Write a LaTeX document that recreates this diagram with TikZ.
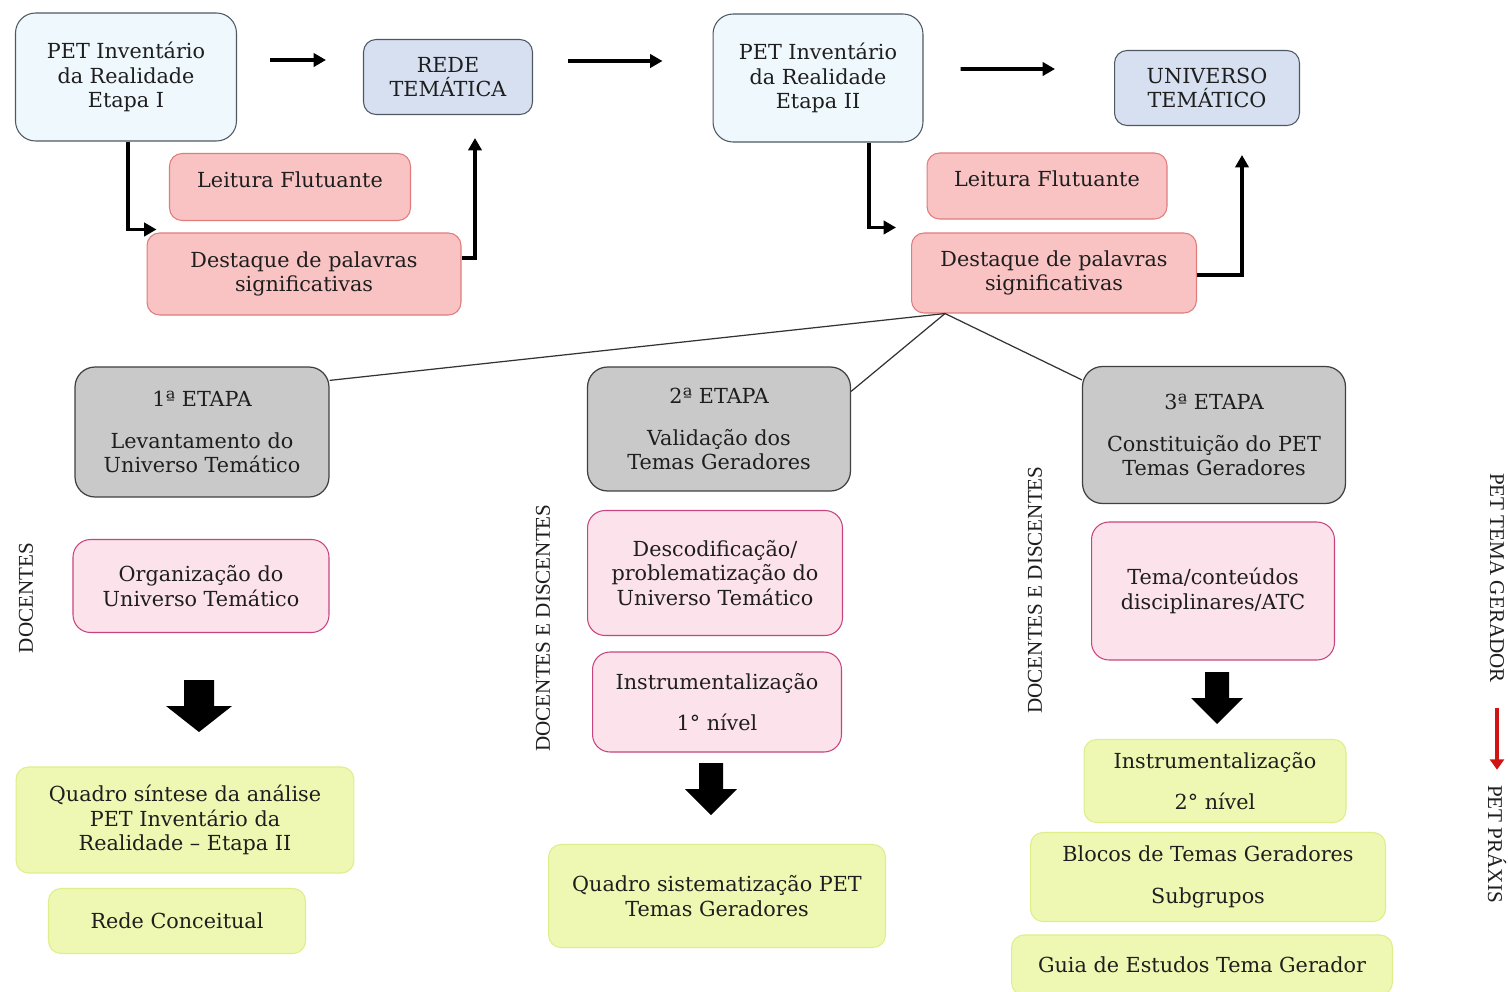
\documentclass[tikz,border=0pt]{standalone}
\usepackage{fontspec}
\setmainfont{DejaVu Serif}
\newfontfamily\timesfont{Liberation Serif}
\usetikzlibrary{arrows.meta}

\definecolor{textdark}{HTML}{1E1E1E}
\definecolor{topblue}{HTML}{EEF8FD}
\definecolor{topline}{HTML}{4E5862}
\definecolor{slateblue}{HTML}{D7E0F1}
\definecolor{salmon}{HTML}{F9C3C3}
\definecolor{salmonline}{HTML}{E07C7C}
\definecolor{etapagray}{HTML}{C9C9C9}
\definecolor{etapaline}{HTML}{404040}
\definecolor{pinkfill}{HTML}{FCE2EA}
\definecolor{pinkline}{HTML}{C8447E}
\definecolor{limefill}{HTML}{EFF8B3}
\definecolor{limeline}{HTML}{DDEE8A}
\definecolor{redarrow}{HTML}{D01414}

\begin{document}
\begin{tikzpicture}[x=0.02cm, y=-0.02cm, >={Triangle[length=7pt,width=7.5pt]},
  box/.style={draw, rounded corners=0.25cm, align=center, text=textdark, inner sep=2pt,
    font=\fontsize{11.8}{14}\selectfont},
  topbox/.style={box, rounded corners=0.4cm, fill=topblue, draw=topline, line width=0.6pt},
  keybox/.style={box, fill=slateblue, draw=topline, line width=0.6pt},
  readbox/.style={box, fill=salmon, draw=salmonline, line width=0.6pt},
  etapabox/.style={box, rounded corners=0.4cm, fill=etapagray, draw=etapaline, line width=0.7pt},
  pinkbox/.style={box, rounded corners=0.35cm, fill=pinkfill, draw=pinkline, line width=0.6pt},
  limebox/.style={box, fill=limefill, draw=limeline, line width=0.6pt},
  vlabel/.style={font=\timesfont\fontsize{12}{14}\selectfont, text=textdark},
  flow/.style={->, line width=2.2pt, black},
  spoke/.style={line width=0.7pt, black!80}]
  \useasboundingbox[fill=white] (0,0) rectangle (1508,991);

  % top row: inventory stages and their outcomes
  \node[topbox, minimum width=4.42cm, minimum height=2.56cm] (inv1) at (126,77) {PET Inventário\\da Realidade\\Etapa I};
  \node[keybox, minimum width=3.38cm, minimum height=1.5cm] (rede) at (448,77) {REDE\\TEMÁTICA};
  \node[topbox, minimum width=4.2cm, minimum height=2.56cm] (inv2) at (818,78) {PET Inventário\\da Realidade\\Etapa II};
  \node[keybox, minimum width=3.7cm, minimum height=1.5cm] (univ) at (1207,88) {UNIVERSO\\TEMÁTICO};

  % reading steps under each inventory
  \node[readbox, minimum width=4.82cm, minimum height=1.34cm] (leit1) at (290,187) {Leitura Flutuante\\[-6pt]\mbox{}};
  \node[readbox, minimum width=6.28cm, minimum height=1.64cm] (dest1) at (304,274) {Destaque de palavras\\significativas};
  \node[readbox, minimum width=4.8cm, minimum height=1.32cm] (leit2) at (1047,186) {Leitura Flutuante\\[-6pt]\mbox{}};
  \node[readbox, minimum width=5.7cm, minimum height=1.6cm] (dest2) at (1054,273) {Destaque de palavras\\significativas};

  \draw[flow] ([xshift=0.66cm,yshift=0.34cm]inv1.east) -- ([xshift=-0.74cm,yshift=0.34cm]rede.west);
  \draw[flow] ([xshift=0.7cm,yshift=0.32cm]rede.east) -- ([xshift=-1cm,yshift=0.34cm]inv2.west);
  \draw[flow] ([xshift=0.74cm,yshift=0.18cm]inv2.east) -- ([xshift=-1.18cm,yshift=0.38cm]univ.west);
  \draw[flow] ([xshift=0.04cm]inv1.south) |- ([xshift=0.2cm,yshift=0.06cm]dest1.north west);
  \draw[flow] ([yshift=0.32cm]dest1.east) -| ([xshift=0.54cm,yshift=-0.46cm]rede.south);
  \draw[flow] ([xshift=1.02cm]inv2.south) |- ([xshift=-0.3cm,yshift=0.1cm]dest2.north west);
  \draw[flow] ([yshift=-0.04cm]dest2.east) -| ([xshift=0.7cm,yshift=-0.58cm]univ.south);

  % the three stages
  \node[etapabox, minimum width=5.08cm, minimum height=2.6cm] (et1) at (202,432) {1ª ETAPA\\[10pt]Levantamento do\\Universo Temático};
  \node[etapabox, minimum width=5.26cm, minimum height=2.48cm] (et2) at (719,429) {2ª ETAPA\\[10pt]Validação dos\\Temas Geradores};
  \node[etapabox, minimum width=5.26cm, minimum height=2.74cm] (et3) at (1214,435) {3ª ETAPA\\[10pt]Constituição do PET\\Temas Geradores};

  \coordinate (hub) at ([xshift=-2.18cm]dest2.south);
  \draw[spoke] (hub) -- ([yshift=-0.28cm]et1.north east);
  \draw[spoke] (hub) -- ([yshift=-0.5cm]et2.north east);
  \draw[spoke] (hub) -- ([yshift=-0.28cm]et3.north west);

  % column 1
  \node[pinkbox, minimum width=5.12cm, minimum height=1.86cm] (org) at (201,586) {Organização do\\Universo Temático};
  \node[limebox, minimum width=6.76cm, minimum height=2.12cm] (sint) at (185,820) {Quadro síntese da análise\\PET Inventário da\\Realidade -- Etapa II};
  \node[limebox, minimum width=5.14cm, minimum height=1.3cm] (conc) at (177,921) {Rede Conceitual};

  % column 2
  \node[pinkbox, minimum width=5.1cm, minimum height=2.5cm] (desc) at (715,573) {Descodificação/\\problematização do\\Universo Temático};
  \node[pinkbox, minimum width=4.98cm, minimum height=2cm] (instr1) at (717,702) {Instrumentalização\\[9pt]1° nível};
  \node[limebox, minimum width=6.74cm, minimum height=2.06cm] (sist) at (717,896) {Quadro sistematização PET\\Temas Geradores};

  % column 3
  \node[pinkbox, minimum width=4.86cm, minimum height=2.76cm] (tema) at (1213,591) {Tema/conteúdos\\disciplinares/ATC};
  \node[limebox, minimum width=5.24cm, minimum height=1.66cm] (instr2) at (1215,781) {Instrumentalização\\[9pt]2° nível};
  \node[limebox, minimum width=7.1cm, minimum height=1.78cm] (blocos) at (1208,877) {Blocos de Temas Geradores\\[10pt]Subgrupos};
  \node[limebox, minimum width=7.62cm, minimum height=1.2cm] (guia) at (1202,965) {Guia de Estudos Tema Gerador};

  % block arrows
  \foreach \cx/\cy/\hw/\sw in {199/680/33/15, 711/763/26/12, 1217/672/26/12}
    \fill[black] (\cx-\sw,\cy) -- (\cx+\sw,\cy) -- (\cx+\sw,\cy+26) -- (\cx+\hw,\cy+26)
      -- (\cx,\cy+52) -- (\cx-\hw,\cy+26) -- (\cx-\sw,\cy+26) -- cycle;

  % side labels
  \node[vlabel, rotate=90] (doc1) at (26,598) {DOCENTES};
  \node[vlabel, rotate=90] (doc2) at (543,628) {DOCENTES E DISCENTES};
  \node[vlabel, rotate=90] (doc3) at (1035,590) {DOCENTES E DISCENTES};
  \node[vlabel, rotate=-90, inner sep=0] (ptg) at (1497,578) {PET TEMA GERADOR};
  \node[vlabel, rotate=-90, inner sep=0] (ppx) at (1497,844) {PET PRÁXIS};
  \draw[->, line width=2pt, redarrow, >={Triangle[length=6pt,width=8pt]}]
    ([yshift=-0.5cm]ptg.east) -- ([yshift=0.3cm]ppx.west);
\end{tikzpicture}
\end{document}
